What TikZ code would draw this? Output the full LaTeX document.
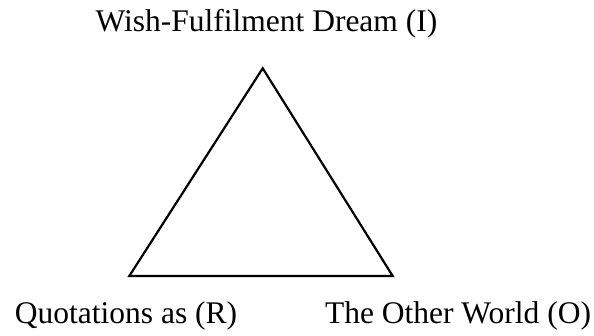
\documentclass[tikz,border=0pt]{standalone}
\usepackage{fontspec}
\setmainfont{Liberation Serif}
\begin{document}
\begin{tikzpicture}[x=1pt,y=1pt,
  lbl/.style={anchor=base,inner sep=0pt,font=\fontsize{31.5}{36}\selectfont},
  tri/.style={line width=2.2pt,line join=miter}]
\useasboundingbox (0,0) rectangle (594,335);
\coordinate (I) at (262.7,266.7);
\coordinate (R) at (129.3,59);
\coordinate (O) at (392.7,59);
\draw[tri] (I) -- (R) -- (O) -- cycle;
\node[lbl] (tI) at (266.5,303) {Wish-Fulfilment Dream (I)};
\node[lbl] (tR) at (126,12) {Quotations as (R)};
\node[lbl] (tO) at (458,12) {The Other World (O)};
\end{tikzpicture}
\end{document}
